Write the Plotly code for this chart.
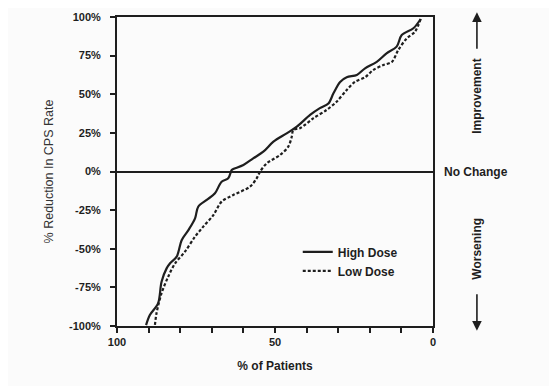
import plotly.graph_objects as go

# High Dose (solid)
high_x = [3.9, 6.2, 9.9, 11.5, 14.7, 17.8, 21.5, 24.1, 27.3, 29.4, 31.5, 33.1, 35.8, 38.9, 43.1,
          46.3, 50.5, 53.7, 56.9, 60.0, 63.2, 63.7, 64.8, 66.9, 69.0, 71.6, 74.3, 75.3, 77.4,
          79.5, 81.1, 83.2, 84.3, 85.9, 87.0, 89.6, 90.8]
high_y = [98.7, 92.7, 88.3, 80.8, 76.5, 71.0, 66.8, 62.5, 61.0, 58.0, 50.6, 44.0, 41.0, 36.6, 29.0,
          24.7, 19.3, 12.8, 8.5, 4.2, 1.6, 1.0, -4.4, -6.6, -14.1, -18.4, -22.8, -30.3, -37.9,
          -44.3, -55.1, -59.4, -62.7, -71.3, -85.3, -92.9, -99.4]

# Low Dose (dashed)
low_x = [3.9, 5.7, 8.3, 11.0, 13.0, 15.7, 18.9, 21.5, 24.7, 27.3, 30.5, 33.7, 37.9, 42.1, 44.2,
         44.7, 45.8, 48.4, 52.6, 54.7, 55.8, 57.9, 63.2, 66.9, 69.5, 72.7, 75.3, 78.5, 81.6,
         83.8, 85.9, 87.5, 88.0]
low_y = [98.7, 90.5, 86.2, 78.6, 71.0, 68.9, 65.7, 61.0, 58.0, 52.8, 45.2, 39.8, 34.4, 28.0, 26.9,
         22.5, 16.1, 10.7, 5.3, 0.0, -4.4, -9.8, -15.2, -19.5, -28.2, -35.7, -42.2, -51.9, -59.4,
         -68.1, -78.8, -91.8, -99.4]

y_tick_vals = [-100, -75, -50, -25, 0, 25, 50, 75, 100]
y_tick_text = ["-100%", "-75%", "-50%", "-25%", "0%", "25%", "50%", "75%", "100%"]
x_tick_vals = [100, 90, 80, 70, 60, 50, 40, 30, 20, 10, 0]
x_tick_text = ["100", "", "", "", "", "50", "", "", "", "", "0"]

INK = "#1e1e1e"
FONT = "Liberation Sans"

fig = go.Figure()
fig.add_trace(go.Scatter(x=high_x, y=high_y, mode="lines", name="High Dose",
                         line=dict(color=INK, width=2.2, shape="spline", smoothing=0.9)))
fig.add_trace(go.Scatter(x=low_x, y=low_y, mode="lines", name="Low Dose",
                         line=dict(color=INK, width=2.2, dash="3px,2px", shape="spline", smoothing=0.9)))

axis_common = dict(showgrid=False, showline=True, mirror=True, linecolor=INK, linewidth=2,
                   ticks="outside", ticklen=5, tickwidth=2, tickcolor=INK, automargin=False)

fig.update_xaxes(range=[100, 0], tickvals=x_tick_vals, ticktext=x_tick_text, zeroline=False,
                 tickfont=dict(family=FONT, size=11, color=INK, weight="bold"),
                 title=dict(text="<b>% of Patients</b>", font=dict(family=FONT, size=12, color=INK), standoff=14),
                 **axis_common)
fig.update_yaxes(range=[-100, 100], tickvals=y_tick_vals, ticktext=y_tick_text,
                 zeroline=True, zerolinecolor=INK, zerolinewidth=1.5, ticklabelstandoff=7,
                 tickfont=dict(family=FONT, size=11, color=INK, weight="bold"),
                 title=dict(text="% Reduction In CPS Rate", font=dict(family=FONT, size=12.5, color="#333"), standoff=13),
                 **axis_common)

annots = [
    dict(text="<b>No Change</b>", x=1.135, y=0.5, xref="paper", yref="paper", showarrow=False,
         font=dict(family=FONT, size=12, color=INK), xanchor="center", yanchor="middle"),
    dict(text="<b>Improvement</b>", x=1.139, y=0.745, xref="paper", yref="paper", showarrow=False,
         textangle=-90, font=dict(family=FONT, size=12, color=INK), xanchor="center", yanchor="middle"),
    dict(text="<b>Worsening</b>", x=1.139, y=0.25, xref="paper", yref="paper", showarrow=False,
         textangle=-90, font=dict(family=FONT, size=12, color=INK), xanchor="center", yanchor="middle"),
    # arrows
    dict(text="", x=1.139, y=1.015, xref="paper", yref="paper", ax=0, ay=38, axref="pixel", ayref="pixel",
         showarrow=True, arrowhead=2, arrowsize=1.2, arrowwidth=1.6, arrowcolor=INK),
    dict(text="", x=1.139, y=-0.015, xref="paper", yref="paper", ax=0, ay=-38, axref="pixel", ayref="pixel",
         showarrow=True, arrowhead=2, arrowsize=1.2, arrowwidth=1.6, arrowcolor=INK),
]

fig.update_layout(
    width=549, height=378,
    margin=dict(l=109, r=124, t=9, b=60),
    paper_bgcolor="#fbfbfb", plot_bgcolor="#fbfbfb",
    showlegend=True,
    legend=dict(x=0.572, y=0.287, xanchor="left", yanchor="top", bgcolor="rgba(0,0,0,0)",
                font=dict(family=FONT, size=12, color=INK, weight="bold"),
                itemwidth=30, tracegroupgap=0),
    annotations=annots,
    font=dict(family=FONT, color=INK),
)

fig.write_html("out.html")
